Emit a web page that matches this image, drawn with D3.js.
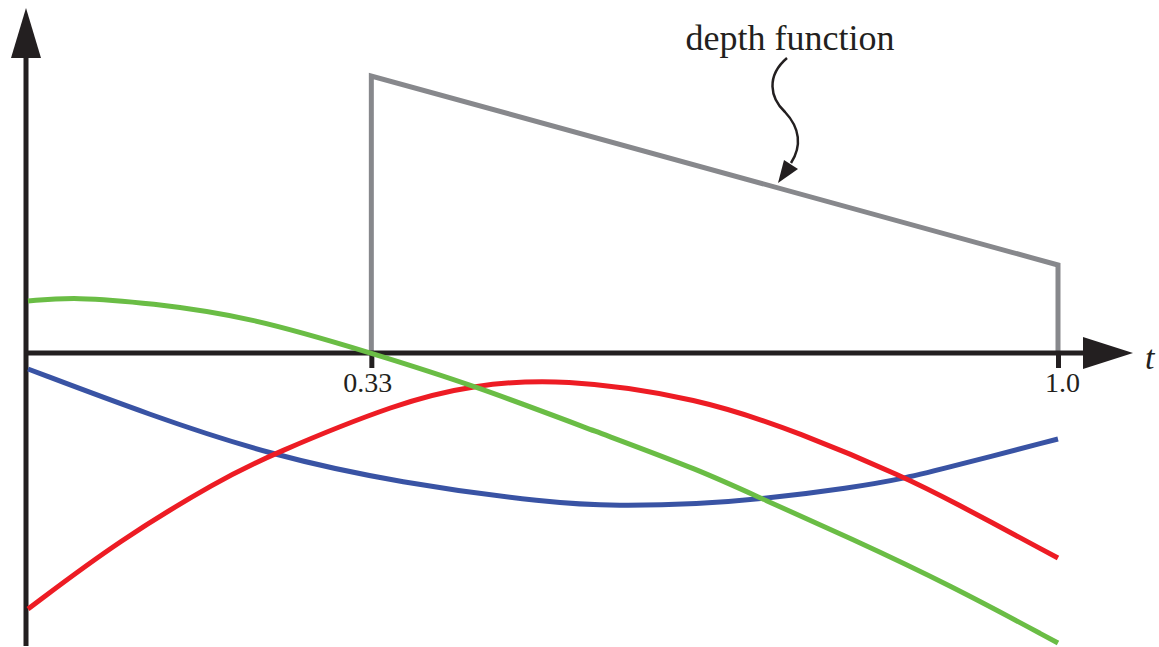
<!DOCTYPE html>
<html>
<head>
<meta charset="utf-8">
<script src="https://cdn.jsdelivr.net/npm/d3@7"></script>
<style>
  html, body { margin: 0; padding: 0; background: #fff; }
  svg { display: block; }
</style>
</head>
<body>
<svg id="chart" width="1159" height="647"></svg>
<script>
// Sample readings (t along the ray, value in chart units)
const greenT = [0, 0.046, 0.118, 0.216, 0.3333, 0.432, 0.555, 0.652, 0.713, 0.798, 0.895, 1];
const greenV = [0.52, 0.56, 0.50, 0.36, 0, -0.32, -0.80, -1.17, -1.46, -1.85, -2.32, -2.90];

const redT = [0, 0.089, 0.186, 0.235, 0.361, 0.432, 0.517, 0.652, 0.75, 0.853, 0.895, 1];
const redV = [-2.56, -1.87, -1.27, -1.02, -0.49, -0.32, -0.25, -0.45, -0.80, -1.25, -1.47, -2.05];

const blueT = [0, 0.118, 0.235, 0.361, 0.507, 0.572, 0.652, 0.713, 0.798, 0.853, 0.895, 1];
const blueV = [-0.16, -0.62, -1.02, -1.30, -1.50, -1.53, -1.51, -1.46, -1.35, -1.25, -1.14, -0.86];

const depthT = [1 / 3, 1 / 3, 1, 1];
const depthV = [0, 2.77, 0.88, 0];

const tickVals = [1 / 3, 1];
const tickLabels = ["0.33", "1.0"];

const svg = d3.select("#chart");
const ink = "#231f20";
const serif = "'Liberation Serif', 'Times New Roman', serif";

const x = d3.scaleLinear().domain([0, 1]).range([28, 1058]);
const y = d3.scaleLinear().domain([0, 1]).range([353, 253]);

// curves
const zip = (ts, vs) => ts.map((t, i) => ({ t, v: vs[i] }));
const smooth = d3.line().x(d => x(d.t)).y(d => y(d.v)).curve(d3.curveBasis);
const straight = d3.line().x(d => x(d.t)).y(d => y(d.v));

const series = [
  { data: zip(blueT, blueV), color: "#3953a4" },
  { data: zip(redT, redV), color: "#ed1c24" },
  { data: zip(greenT, greenV), color: "#6abd45" }
];

// depth function
svg.append("path")
    .attr("d", straight(zip(depthT, depthV)))
    .attr("fill", "none")
    .attr("stroke", "#87888c")
    .attr("stroke-width", 5)
    .attr("stroke-linejoin", "miter");

// axes
const x0 = 26;
svg.append("line")
    .attr("x1", x0).attr("y1", 646)
    .attr("x2", x0).attr("y2", 50)
    .attr("stroke", ink).attr("stroke-width", 5);
svg.append("path")
    .attr("d", `M${x0},8 L${x0 + 15},58 L${x0 - 15},58 Z`)
    .attr("fill", ink);

svg.append("line")
    .attr("x1", x0 - 2).attr("y1", y(0))
    .attr("x2", 1090).attr("y2", y(0))
    .attr("stroke", ink).attr("stroke-width", 5);
svg.append("path")
    .attr("d", `M1133,${y(0)} L1083,${y(0) - 16} L1083,${y(0) + 16} Z`)
    .attr("fill", ink);

const xAxis = d3.axisBottom(x)
    .tickValues(tickVals)
    .tickFormat((d, i) => tickLabels[i])
    .tickSize(15)
    .tickPadding(4);

const gx = svg.append("g")
    .attr("transform", `translate(0,${y(0)})`)
    .call(xAxis);
gx.select(".domain").remove();
gx.selectAll(".tick line")
    .attr("stroke", ink)
    .attr("stroke-width", 5);
gx.selectAll(".tick text")
    .attr("fill", ink)
    .attr("font-family", serif)
    .attr("font-size", 28)
    .attr("dx", (d, i) => i === 0 ? -4 : 4);

svg.append("g")
  .selectAll("path")
  .data(series)
  .join("path")
    .attr("d", d => smooth(d.data))
    .attr("fill", "none")
    .attr("stroke", d => d.color)
    .attr("stroke-width", 5);

// axis label
svg.append("text")
    .attr("x", 1145).attr("y", 369)
    .attr("font-family", serif)
    .attr("font-style", "italic")
    .attr("font-size", 34)
    .attr("fill", ink)
    .text("t");

// annotation
svg.append("text")
    .attr("x", 790).attr("y", 50)
    .attr("text-anchor", "middle")
    .attr("font-family", serif)
    .attr("font-size", 36)
    .attr("fill", ink)
    .text("depth function");

const tip = [778, 183];
svg.append("path")
    .attr("d", `M787,58 C766,76 770,98 785,112 C800,128 802,146 791,163`)
    .attr("fill", "none")
    .attr("stroke", ink)
    .attr("stroke-width", 2.5);
svg.append("path")
    .attr("d", `M${tip[0]},${tip[1]} L${tip[0] + 6},${tip[1] - 23} L${tip[0] + 20},${tip[1] - 14} Z`)
    .attr("fill", ink);
</script>
</body>
</html>
